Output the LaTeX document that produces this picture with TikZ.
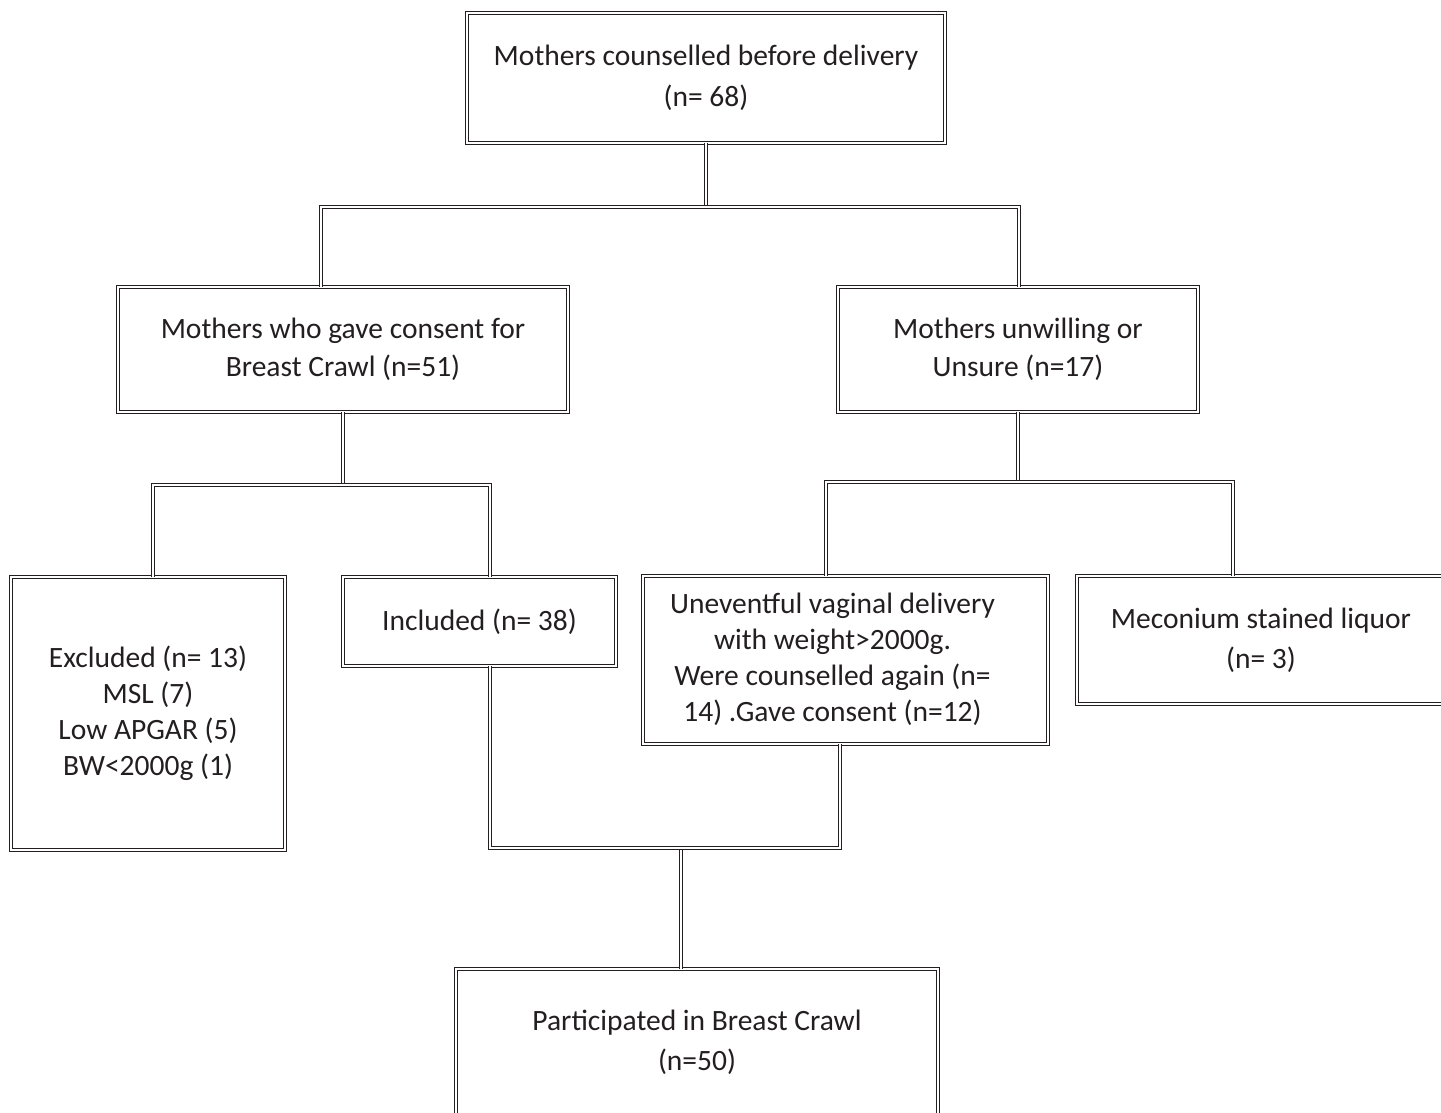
\documentclass[tikz,border=0pt]{standalone}
\usepackage{fontspec}
\setmainfont{Carlito}
\definecolor{ink}{HTML}{231F20}

\begin{document}
\begin{tikzpicture}[x=1pt, y=-1pt,
                        box/.style={rectangle, draw=ink, text=ink, double, line width=1.2pt, double distance=2pt,
                                    fill=white, inner sep=0pt, outer sep=0pt, align=center,
                                    font=\fontsize{29.5}{37}\selectfont},
                        link/.style={draw=ink, double, line width=1.2pt, double distance=2pt}]
                    \useasboundingbox (0,0) rectangle (1441,1113);

                        % Boxes
                        \node[box, minimum width=478pt, minimum height=130pt, font=\fontsize{29.5}{41}\selectfont] (top) at (706,78) {Mothers counselled before delivery\\(n= 68)}; % Root box
                        \node[box, minimum width=450pt, minimum height=125pt, font=\fontsize{29.5}{38}\selectfont] (cons) at (343,349.5) {Mothers who gave consent for\\Breast Crawl (n=51)};
                        \node[box, minimum width=360pt, minimum height=125pt, font=\fontsize{29.5}{38}\selectfont] (unw) at (1018,349.5) {Mothers unwilling or\\Unsure (n=17)};
                        \node[box, minimum width=274pt, minimum height=273pt, font=\fontsize{29.5}{36}\selectfont] (excl) at (148,713.5) {Excluded (n= 13)\\MSL (7)\\Low APGAR (5)\\BW<2000g (1)};
                        \node[box, minimum width=273pt, minimum height=89pt] (incl) at (479.5,621.5) {Included (n= 38)};
                        \node[box, minimum width=405pt, minimum height=168pt, font=\fontsize{29.5}{36}\selectfont] (unev) at (845.5,660)
                            {\hbox{\begin{tabular}{@{}c@{}}Uneventful vaginal delivery\\with weight>2000g.\\Were counselled again (n=\\14) .Gave consent (n=12)\end{tabular}\kern26pt}};
                        \node[box, minimum width=368pt, minimum height=128pt, font=\fontsize{29.5}{40}\selectfont] (mec) at (1261,640) {Meconium stained liquor\\(n= 3)};
                        \node[box, minimum width=482pt, minimum height=146pt, font=\fontsize{29.5}{40}\selectfont] (part) at (697,1042) {Participated in Breast Crawl\\(n=50)};

                        % Junctions
                        \coordinate (s1l) at (321,207);
                        \coordinate (s1r) at (1019,207);
                        \coordinate (s2l) at (153,485);
                        \coordinate (s2r) at (490,485);
                        \coordinate (s3l) at (826,482);
                        \coordinate (s3r) at (1233,482);
                        \coordinate (s4l) at (490,848);
                        \coordinate (s4m) at (681,848);
                        \coordinate (s4r) at (840,848);

                        % Connectors
                        \path[link] (top.south) -- (top.south |- s1l);
                        \path[link] (s1l |- cons.north) -- (s1l) -- (s1r) -- (s1r |- unw.north);
                        \path[link] (cons.south) -- (cons.south |- s2l);
                        \path[link] (s2l |- excl.north) -- (s2l) -- (s2r) -- (s2r |- incl.north);
                        \path[link] (unw.south) -- (unw.south |- s3l);
                        \path[link] (s3l |- unev.north) -- (s3l) -- (s3r) -- (s3r |- mec.north);
                        \path[link] (s4m |- part.north) -- (s4m);
                        \path[link] (s4l |- incl.south) -- (s4l) -- (s4r) -- (s4r |- unev.south);
                    \end{tikzpicture}
\end{document}
